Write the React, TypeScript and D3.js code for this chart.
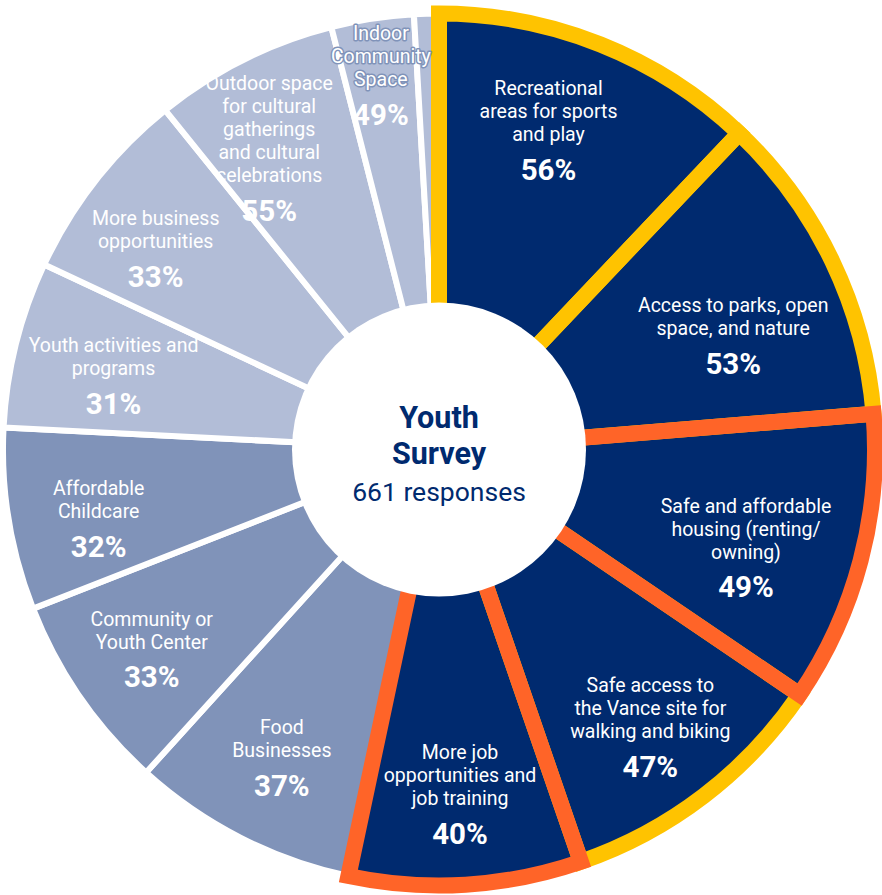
import React from 'react';
import * as d3 from 'd3';

// ---- data ----
const categories = [
  'Recreational areas for sports and play',
  'Access to parks, open space, and nature',
  'Safe and affordable housing (renting/owning)',
  'Safe access to the Vance site for walking and biking',
  'More job opportunities and job training',
  'Food Businesses',
  'Community or Youth Center',
  'Affordable Childcare',
  'Youth activities and programs',
  'More business opportunities',
  'Outdoor space for cultural gatherings and cultural celebrations',
  'Indoor Community Space',
  'Other',
];
const labelLines: string[][] = [
  ['Recreational', 'areas for sports', 'and play'],
  ['Access to parks, open', 'space, and nature'],
  ['Safe and affordable', 'housing (renting/', 'owning)'],
  ['Safe access to', 'the Vance site for', 'walking and biking'],
  ['More job', 'opportunities and', 'job training'],
  ['Food', 'Businesses'],
  ['Community or', 'Youth Center'],
  ['Affordable', 'Childcare'],
  ['Youth activities and', 'programs'],
  ['More business', 'opportunities'],
  ['Outdoor space', 'for cultural', 'gatherings', 'and cultural', 'celebrations'],
  ['Indoor', 'Community', 'Space'],
  [],
];
const percentLabels = ['56%', '53%', '49%', '47%', '40%', '37%', '33%', '32%', '31%', '33%', '55%', '49%', ''];
// slice sizes as drawn (angular share)
const sliceShares = [43.5, 41.8, 38.9, 36.8, 31, 30.2, 26.4, 24.3, 22.2, 26, 24.6, 11, 3.3];
const tiers = ['dark', 'dark', 'dark', 'dark', 'dark', 'mid', 'mid', 'mid', 'light', 'light', 'light', 'light', 'light'];
const highlights = ['yellow', 'yellow', 'orange', 'yellow', 'orange', '', '', '', '', '', '', '', ''];
const centerTitle = ['Youth', 'Survey'];
const centerSubtitle = '661 responses';

// ---- styles / layout ----
const W = 882;
const H = 895;
const CX = 439;
const CY = 449.5;
const R_OUT = 436;
const R_HOLE = 147;
const COLORS: Record<string, string> = { dark: '#002a6f', mid: '#8093b9', light: '#b2bdd7' };
const HL: Record<string, string> = { yellow: '#ffc300', orange: '#ff6428' };
const NAVY = '#002a6f';
const FONT = 'Roboto, "Noto Sans", sans-serif';
const labelRadius = [339, 316, 322, 348, 344, 345, 349, 347, 334, 348, 347, 380, 0];
const labelNudgeDeg = [-2.9, 4.2, 2.8, 0, 0, 0, 0, -2, -1, -2.6, -2.7, 0, 0];

export default function App() {
  const pie = d3.pie<number>().value((d) => d).sort(null);
  const arcs = pie(sliceShares);
  const arcGen = d3.arc<d3.PieArcDatum<number>>().innerRadius(110).outerRadius(R_OUT);

  const idx = arcs.map((a, i) => i);
  const lightIdx = idx.filter((i) => tiers[i] !== 'dark');
  const darkIdx = idx.filter((i) => tiers[i] === 'dark');
  const yellowIdx = idx.filter((i) => highlights[i] === 'yellow');
  const orangeIdx = idx.filter((i) => highlights[i] === 'orange');

  const lineGap = 23;
  const pctGap = 35;

  return (
    <svg
      width={W}
      height={H}
      style={{ position: 'absolute', left: 0, top: 0, fontFamily: FONT }}
    >
      <rect width={W} height={H} fill="#fff" />
      <g transform={`translate(${CX},${CY})`}>
        {lightIdx.map((i) => (
          <path key={'l' + i} d={arcGen(arcs[i]) || ''} fill={COLORS[tiers[i]]} stroke="#fff" strokeWidth={6} />
        ))}
        {darkIdx.map((i) => (
          <path key={'d' + i} d={arcGen(arcs[i]) || ''} fill={COLORS[tiers[i]]} />
        ))}
        {yellowIdx.map((i) => (
          <path key={'y' + i} d={arcGen(arcs[i]) || ''} fill="none" stroke={HL.yellow} strokeWidth={16} strokeLinejoin="miter" />
        ))}
        {orangeIdx.map((i) => (
          <path key={'o' + i} d={arcGen(arcs[i]) || ''} fill="none" stroke={HL.orange} strokeWidth={16} strokeLinejoin="miter" />
        ))}
        <circle r={R_HOLE} fill="#fff" />

        {arcs.map((a, i) => {
          const lines = labelLines[i];
          if (!lines.length) return null;
          const ang = (a.startAngle + a.endAngle) / 2 + (labelNudgeDeg[i] * Math.PI) / 180;
          const r = labelRadius[i];
          const x = r * Math.sin(ang);
          const y = -r * Math.cos(ang);
          const blockH = (lines.length - 1) * lineGap + pctGap;
          const y0 = y - blockH / 2;
          const halo = i === 11;
          return (
            <g key={'t' + i} fill="#fff" textAnchor="middle">
              {lines.map((ln, j) => (
                <text
                  key={j}
                  x={x}
                  y={y0 + j * lineGap}
                  dy="0.35em"
                  fontSize={19.5}
                  stroke={halo ? '#8093b9' : 'none'}
                  strokeWidth={halo ? 3 : 0}
                  paintOrder="stroke"
                  strokeLinejoin="round"
                >
                  {ln}
                </text>
              ))}
              <text
                x={x}
                y={y0 + (lines.length - 1) * lineGap + pctGap}
                dy="0.35em"
                fontSize={29.5}
                fontWeight={700}
              >
                {percentLabels[i]}
              </text>
            </g>
          );
        })}

        <g fill={NAVY} textAnchor="middle">
          {centerTitle.map((t, j) => (
            <text key={j} x={0} y={-32 + j * 36} dy="0.35em" fontSize={30.5} fontWeight={700}>
              {t}
            </text>
          ))}
          <text x={0} y={42.5} dy="0.35em" fontSize={26.5}>
            {centerSubtitle}
          </text>
        </g>
      </g>
    </svg>
  );
}
